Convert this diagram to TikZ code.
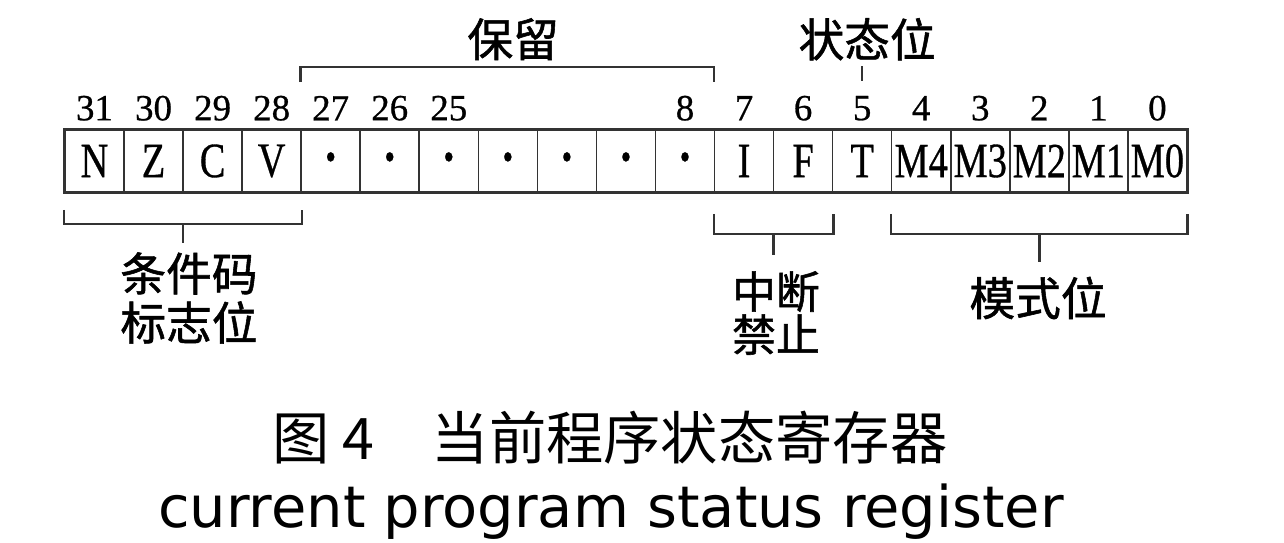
\documentclass[tikz,border=0pt]{standalone}
\usepackage{fontspec}
\usepackage{graphicx}
\setmainfont{Liberation Serif}
\newfontfamily\cellfont{Liberation Serif}[FakeBold=0.7]
\newfontfamily\cjk{Noto Sans CJK SC}
\newfontfamily\cjkb{Noto Sans CJK SC}[FakeBold=1.2]
\newfontfamily\capfont{DejaVu Sans}
\usetikzlibrary{calc}
\newcommand{\narrow}[1]{\scalebox{0.78}[1]{#1}}
\newcommand{\bitdot}{{\fontsize{22}{22}\selectfont\textbullet}}

\begin{document}
\begin{tikzpicture}[x=0.02cm,y=-0.02cm,
        cell/.style={rectangle,draw=black!80,line width=0.9pt,minimum width=1.181cm,minimum height=1.24cm,inner sep=0pt,font=\cellfont\fontsize{28}{30}\selectfont},
        bitno/.style={inner sep=1pt,font=\cellfont\fontsize{21}{24}\selectfont},
        lbl/.style={inner sep=3pt,align=center,font=\cjkb\fontsize{26}{28}\selectfont},
        brak/.style={draw=black!80,line width=1.4pt},
        tick/.style={draw=black!80,line width=0.9pt}]
    \useasboundingbox (0,0) rectangle (1284,543);

        % register cells, bit 31 on the left
        \foreach \txt [count=\i from 0] in {N,Z,C,V,\bitdot,\bitdot,\bitdot,\bitdot,\bitdot,\bitdot,\bitdot,I,F,T,M4,M3,M2,M1,M0}
            \node[cell] (c\i) at ({94.5+59.05*\i},161) {\narrow{\txt}};
        \draw[brak] (c0.north west) rectangle (c18.south east);

        % bit numbers
        \foreach \i/\b in {0/31,1/30,2/29,3/28,4/27,5/26,6/25,10/8,11/7,12/6,13/5,14/4,15/3,16/2,17/1,18/0}
            \node[bitno] (b\b) at ($(c\i.north)+(0,-21)$) {\b};

        % reserved bits
        \coordinate (rsl) at ($(c4.north west)+(0,-47)$);
        \coordinate (rsr) at ($(c11.north west)+(0,-47)$);
        \draw[brak] (rsl) -- ++(0,-15) -| (rsr);
        \node[lbl] (res) at ($(rsl)!0.5!(rsr)+(6,-43)$) {保留};

        % state bit
        \node[lbl] (st) at ($(c13.north)+(5,-90)$) {状态位};
        \draw[tick] ($(c13.north)+(0,-63)$) -- ($(c13.north)+(0,-48)$);

        % condition flags
        \draw[brak] ($(c0.south west)+(0,17)$) -- ++(0,14) -| ($(c3.south east)+(0,17)$);
        \coordinate (ccm) at ($(c0.south west)!0.5!(c3.south east)+(0,31)$);
        \node[lbl] (cc) at (189,298) {条件码\\标志位};
        \draw[brak,shorten >=2pt] (ccm) -- (ccm |- cc.north);

        % interrupt disable
        \draw[brak] ($(c11.south west)+(0,21)$) -- ++(0,20) -| ($(c12.south east)+(0,21)$);
        \coordinate (irm) at ($(c11.south west)!0.5!(c12.south east)+(0,41)$);
        \node[lbl,font=\cjkb\fontsize{25}{24.5}\selectfont] (ir) at (776,313) {中断\\禁止};
        \draw[brak,shorten >=6pt] (irm) -- (irm |- ir.north);

        % mode bits
        \draw[brak] ($(c14.south west)+(0,21)$) -- ++(0,20) -| ($(c18.south east)+(0,21)$);
        \coordinate (mdm) at ($(c14.south west)!0.5!(c18.south east)+(0,41)$);
        \node[lbl] (md) at (1038,298) {模式位};
        \draw[brak,shorten >=5pt] (mdm) -- (mdm |- md.north);

        % caption
        \node[inner sep=0pt,font=\cjk\fontsize{32.6}{34}\selectfont] (capzh) at (610,438) {图 4　当前程序状态寄存器};
        \node[inner sep=0pt,font=\capfont\fontsize{32.7}{34}\selectfont] (capen) at (611,512) {current program status register};

\end{tikzpicture}
\end{document}
